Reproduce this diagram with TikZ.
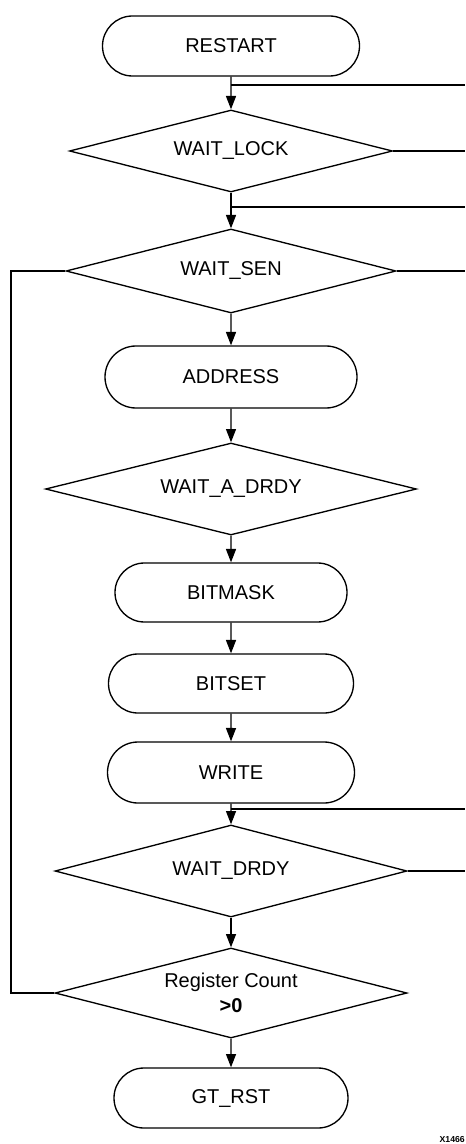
\documentclass[tikz,border=0pt]{standalone}
\usepackage{fontspec}
\setmainfont{Liberation Sans}
\usetikzlibrary{shapes.geometric,shapes.misc,arrows.meta}
\tikzset{
    terminal/.style = {
        rounded rectangle,
        draw            = black,
        line width      = 1pt,
        inner sep       = 0pt,
        minimum height  = 45pt,
        font            = \fontsize{15}{18.75}\selectfont,
    },
    decision/.style = {
        diamond,
        draw            = black,
        line width      = 1pt,
        inner sep       = 0pt,
        aspect          = 3.9,
        align           = center,
        font            = \fontsize{15}{18.75}\selectfont,
    },
    flow/.style = {
        -{Triangle[length=10pt,width=7.5pt]},
        line width      = 1pt,
    },
    wire/.style = {
        line width      = 1pt,
    }
}

\begin{document}
\begin{tikzpicture}[x=0.75pt,y=-0.75pt]
  \useasboundingbox (0,0) rectangle (465,1144);

  % Start up
  \node[terminal,minimum width=192.75pt] (Restart) at (231,46) {RESTART};
  \node[decision,aspect=3.94,minimum width=242.25pt,minimum height=61.5pt] (WaitLock) at (231,151) {WAIT\_LOCK};
  \node[decision,aspect=3.93,minimum width=247.5pt,minimum height=63pt] (WaitSen) at (231,271) {WAIT\_SEN};

  \coordinate (JoinA) at (231,85);
  \coordinate (OutA) at (465,85);
  \coordinate (OutB) at (465,151);
  \coordinate (JoinB) at (231,207);
  \coordinate (OutC) at (465,207);
  \coordinate (OutD) at (465,271);

  \draw[flow] (Restart) to (WaitLock);
  \draw[wire] (JoinA) to (OutA);
  \draw[wire] (WaitLock.east) to (OutB);
  \draw[flow] (WaitLock) to (WaitSen);
  \draw[wire] (JoinB) to (OutC);
  \draw[wire] (WaitSen.east) to (OutD);

  % Register write
  \node[terminal,minimum width=189pt,minimum height=46.5pt] (Address) at (231,377) {ADDRESS};
  \node[decision,aspect=4.03,minimum width=278.25pt,minimum height=69pt] (WaitADrdy) at (231,489) {WAIT\_A\_DRDY};
  \node[terminal,minimum width=174pt,minimum height=44.25pt] (Bitmask) at (231,592.5) {BITMASK};
  \node[terminal,minimum width=183.75pt,minimum height=44.25pt] (Bitset) at (231,683.5) {BITSET};
  \node[terminal,minimum width=185.25pt,minimum height=45.75pt] (Write) at (231,772.5) {WRITE};

  \draw[flow] (WaitSen) to (Address);
  \draw[flow] (Address) to (WaitADrdy);
  \draw[flow] (WaitADrdy) to (Bitmask);
  \draw[flow] (Bitmask) to (Bitset);
  \draw[flow] (Bitset) to (Write);

  % Wait and count
  \node[decision,aspect=3.83,minimum width=264pt,minimum height=69pt] (WaitDrdy) at (231,871) {WAIT\_DRDY};
  \node[decision,aspect=3.91,minimum width=264pt,minimum height=67.5pt] (RegCount) at (231,993) {Register Count\\\textbf{>0}};
  \node[terminal,minimum width=175.5pt] (GtRst) at (231,1098) {GT\_RST};

  \coordinate (JoinC) at (231,809);
  \coordinate (OutE) at (465,809);
  \coordinate (OutF) at (465,871);
  \coordinate (LoopCorner) at (11,993);

  \draw[flow] (Write) to (WaitDrdy);
  \draw[wire] (JoinC) to (OutE);
  \draw[wire] (WaitDrdy.east) to (OutF);
  \draw[flow] (WaitDrdy) to (RegCount);
  \draw[flow] (RegCount) to (GtRst);
  \draw[wire] (RegCount.west) -- (LoopCorner) |- (WaitSen.west);

  \node[anchor=south east,inner sep=0pt,font=\fontsize{6.5}{7}\selectfont\bfseries] (FigId) at (465,1143) {X1466};
\end{tikzpicture}
\end{document}
